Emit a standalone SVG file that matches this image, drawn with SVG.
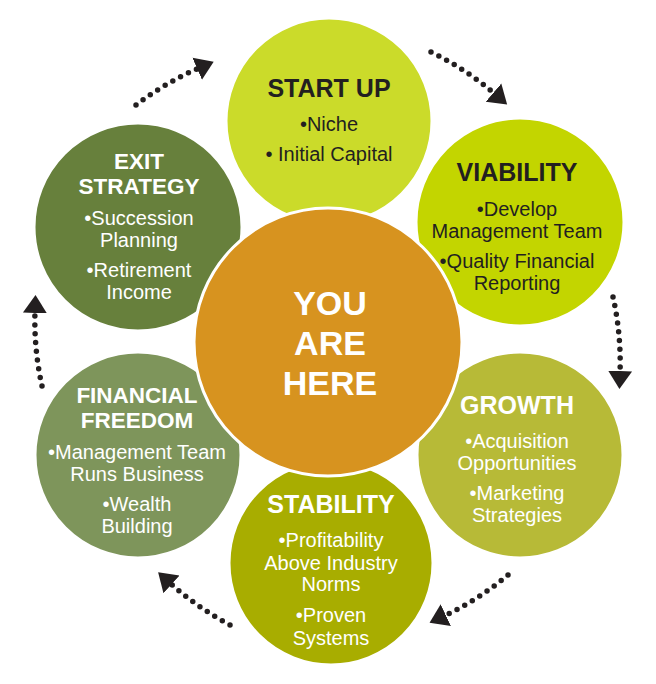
<svg xmlns="http://www.w3.org/2000/svg" width="656" height="684" viewBox="0 0 656 684">
<style>
.c{stroke:#fff;stroke-width:3}
text{font-family:"Liberation Sans",Arial,sans-serif;text-anchor:middle}
.h{font-size:25px;font-weight:bold}
.h2{font-size:22.5px;font-weight:bold}
.b{font-size:20px}
.dk{fill:#231f20}
.wh{fill:#fff}
.ctr{font-size:34px;font-weight:bold;fill:#fff}
.arr{fill:none;stroke:#231f20;stroke-width:5.5;stroke-linecap:round;stroke-dasharray:0 8.8;marker-end:url(#ah)}
</style>
<defs>
<marker id="ah" markerUnits="userSpaceOnUse" markerWidth="30" markerHeight="30" refX="2" refY="12" orient="auto" viewBox="0 0 30 24">
<path d="M0,0 L18,12 L0,24 Z" fill="#231f20"/>
</marker>
</defs>
<g id="connectors">
<path class="arr" d="M136,105 A300,300 0 0 1 199,68"/>
<path class="arr" d="M431,52 A300,300 0 0 1 495,94"/>
<path class="arr" d="M613,297 A300,300 0 0 1 620,373"/>
<path class="arr" d="M508,575 A300,300 0 0 1 444,616"/>
<path class="arr" d="M230,625 A300,300 0 0 1 170,583"/>
<path class="arr" d="M42,386 A300,300 0 0 1 35,311"/>
</g>
<g id="start-up">
<circle class="c" cx="329" cy="121" r="103" fill="#cbdb2a"/>
<text class="h dk" x="329" y="97">START UP</text>
<text class="b dk" x="329" y="131">•Niche</text>
<text class="b dk" x="329" y="161">• Initial Capital</text>
</g>
<g id="viability">
<circle class="c" cx="520" cy="222" r="104" fill="#c3d500"/>
<text class="h dk" x="517" y="181">VIABILITY</text>
<text class="b dk" x="517" y="216">•Develop</text>
<text class="b dk" x="517" y="238">Management Team</text>
<text class="b dk" x="517" y="268">•Quality Financial</text>
<text class="b dk" x="517" y="290">Reporting</text>
</g>
<g id="exit-strategy">
<circle class="c" cx="138" cy="227" r="104" fill="#67803c"/>
<text class="h2 wh" x="139" y="169">EXIT</text>
<text class="h2 wh" x="139" y="194">STRATEGY</text>
<text class="b wh" x="139" y="225">•Succession</text>
<text class="b wh" x="139" y="247">Planning</text>
<text class="b wh" x="139" y="277">•Retirement</text>
<text class="b wh" x="139" y="299">Income</text>
</g>
<g id="financial-freedom">
<circle class="c" cx="138" cy="455" r="103" fill="#7e955b"/>
<text class="h2 wh" x="137" y="403">FINANCIAL</text>
<text class="h2 wh" x="137" y="428">FREEDOM</text>
<text class="b wh" x="137" y="459">•Management Team</text>
<text class="b wh" x="137" y="481">Runs Business</text>
<text class="b wh" x="137" y="511">•Wealth</text>
<text class="b wh" x="137" y="533">Building</text>
</g>
<g id="stability">
<circle class="c" cx="331" cy="563" r="102" fill="#a8ad00"/>
<text class="h wh" x="331" y="513">STABILITY</text>
<text class="b wh" x="331" y="547">•Profitability</text>
<text class="b wh" x="331" y="570">Above Industry</text>
<text class="b wh" x="331" y="591">Norms</text>
<text class="b wh" x="331" y="622">•Proven</text>
<text class="b wh" x="331" y="645">Systems</text>
</g>
<g id="growth">
<circle class="c" cx="520" cy="455" r="103" fill="#b7ba37"/>
<text class="h wh" x="517" y="414">GROWTH</text>
<text class="b wh" x="517" y="448">•Acquisition</text>
<text class="b wh" x="517" y="470">Opportunities</text>
<text class="b wh" x="517" y="500">•Marketing</text>
<text class="b wh" x="517" y="522">Strategies</text>
</g>
<g id="you-are-here">
<circle class="c" cx="328" cy="342" r="134" fill="#d7931f"/>
<text class="ctr" x="330" y="315">YOU</text>
<text class="ctr" x="330" y="355">ARE</text>
<text class="ctr" x="330" y="395">HERE</text>
</g>
</svg>
